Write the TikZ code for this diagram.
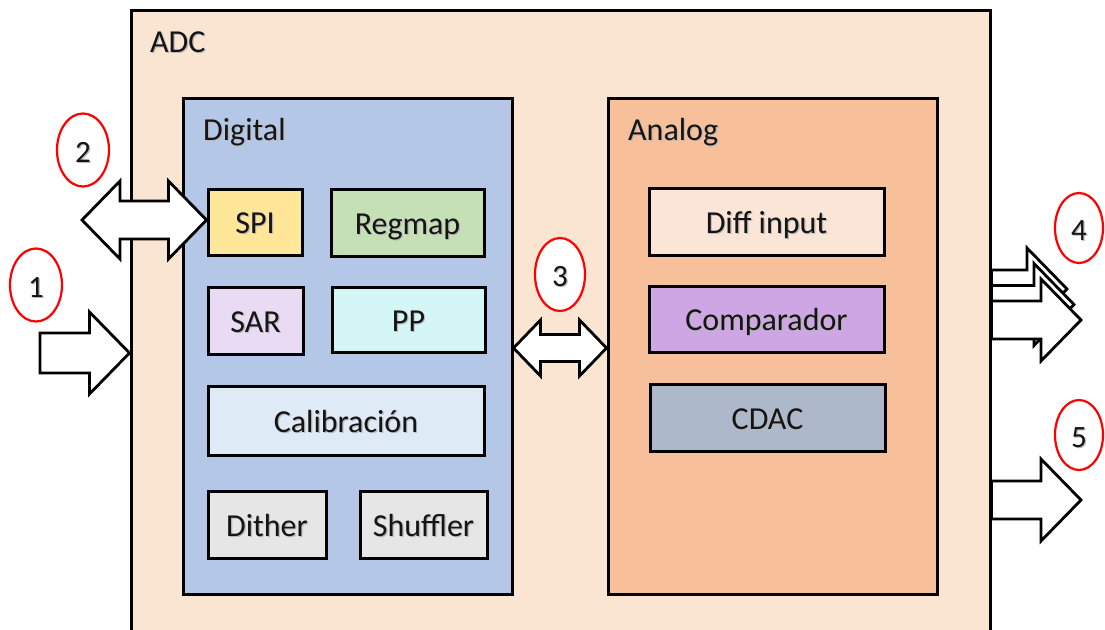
\documentclass[tikz,border=0pt]{standalone}
\usepackage{fontspec}
\setmainfont{Carlito}
\usetikzlibrary{calc,shapes.geometric}

\definecolor{adcfill}{HTML}{FAE5D2}
\definecolor{digfill}{HTML}{B4C7E7}
\definecolor{anafill}{HTML}{F8C09A}
\definecolor{spifill}{HTML}{FFE699}
\definecolor{regfill}{HTML}{C5E0B4}
\definecolor{sarfill}{HTML}{E8DBF3}
\definecolor{ppfill}{HTML}{D5F6F7}
\definecolor{calfill}{HTML}{DEEBF7}
\definecolor{grayfill}{HTML}{E7E6E6}
\definecolor{difffill}{HTML}{FBE5D6}
\definecolor{compfill}{HTML}{CDA6E3}
\definecolor{cdacfill}{HTML}{ADB9CA}
\definecolor{txt}{HTML}{151515}

% text with a soft drop shadow
\newcommand\shtext[1]{\leavevmode\rlap{\raisebox{-1.2pt}{\kern1.2pt\textcolor{black!28}{#1}}}#1}

% right-pointing block arrow: tail, tip, shaft half width, head half width, head length
\newcommand\blkarrowR[5]{%
  \draw[barrow] ($(#1)+(0,-#3)$) -- ($(#2)+(-#5,-#3)$) -- ($(#2)+(-#5,-#4)$) -- (#2)
    -- ($(#2)+(-#5,#4)$) -- ($(#2)+(-#5,#3)$) -- ($(#1)+(0,#3)$) -- cycle;}
% two-headed block arrow: left tip, right tip, shaft half width, head half width, head length
\newcommand\blkarrowLR[5]{%
  \draw[barrow] (#1) -- ($(#1)+(#5,-#4)$) -- ($(#1)+(#5,-#3)$) -- ($(#2)+(-#5,-#3)$)
    -- ($(#2)+(-#5,-#4)$) -- (#2) -- ($(#2)+(-#5,#4)$) -- ($(#2)+(-#5,#3)$)
    -- ($(#1)+(#5,#3)$) -- ($(#1)+(#5,#4)$) -- cycle;}

\tikzset{
  box/.style={draw=black, line width=3pt, inner sep=0pt, rectangle,
    font=\fontsize{32}{38}\selectfont, text=txt, text height=23pt, text depth=0pt},
  title/.style={anchor=base west, inner sep=0pt, font=\fontsize{32}{38}\selectfont, text=txt},
  barrow/.style={draw=black, fill=white, line width=2.8pt, line join=miter},
  tag/.style={ellipse, draw=red, line width=2.2pt, fill=white, inner sep=0pt,
    minimum width=52pt, minimum height=73pt, font=\fontsize{31}{38}\selectfont, text=txt,
    text height=24pt, text depth=0pt},
}

\begin{document}
\begin{tikzpicture}[x=1pt, y=-1pt]
\useasboundingbox (0,0) rectangle (1105,629);
\clip (0,0) rectangle (1105,629);
\fill[white] (0,0) rectangle (1105,629);

% outer ADC block
\node[box, fill=adcfill, minimum width=859pt, minimum height=640pt] (adc) at (560.5,330) {};
\node[title] (adclbl) at (150,52) {\shtext{ADC}};

% digital section
\node[box, fill=digfill, minimum width=329pt, minimum height=496pt] (dig) at (347.5,346) {};
\node[title] (diglbl) at (203,140) {\shtext{Digital}};
\node[box, fill=spifill, minimum width=94pt, minimum height=66pt] (spi) at (255,222) {\shtext{SPI}};
\node[box, fill=regfill, minimum width=153pt, minimum height=67pt] (reg) at (407.5,222.5) {\shtext{Regmap}};
\node[box, fill=sarfill, minimum width=95pt, minimum height=67pt] (sar) at (255.5,320.5) {\shtext{SAR}};
\node[box, fill=ppfill, minimum width=153pt, minimum height=65pt] (pp) at (408.5,319.5) {\shtext{PP}};
\node[box, fill=calfill, minimum width=276pt, minimum height=69pt] (cal) at (346,420.5) {\shtext{Calibración}};
\node[box, fill=grayfill, minimum width=118pt, minimum height=67pt] (dith) at (267,524.5) {\shtext{Dither}};
\node[box, fill=grayfill, minimum width=127pt, minimum height=67pt] (shuf) at (423.5,524.5) {\shtext{Shuffler}};

% analog section
\node[box, fill=anafill, minimum width=329pt, minimum height=496pt] (ana) at (772.5,346) {};
\node[title] (analbl) at (628,140) {\shtext{Analog}};
\node[box, fill=difffill, minimum width=235pt, minimum height=67pt] (diff) at (766.5,221.5) {\shtext{Diff input}};
\node[box, fill=compfill, minimum width=235pt, minimum height=66pt] (comp) at (766.5,319) {\shtext{Comparador}};
\node[box, fill=cdacfill, minimum width=235pt, minimum height=67pt] (cdac) at (767.5,417.5) {\shtext{CDAC}};

% end points of the interface arrows
\coordinate (in1) at (40,353);
\coordinate (in1tip) at (adc.west |- in1);
\coordinate (spiL) at (82,220);
\coordinate (spiR) at (spi.west |- spiL);
\coordinate (busL) at (dig.east |- 0,348);
\coordinate (busR) at (ana.west |- 0,348);
\coordinate (o4c) at (adc.east |- 0,289);
\coordinate (o4ct) at (1067,289);
\coordinate (o4b) at (adc.east |- 0,304.5);
\coordinate (o4bt) at (1074,304.5);
\coordinate (o4a) at (adc.east |- 0,320);
\coordinate (o4at) at (1081,320);
\coordinate (o5) at (adc.east |- 0,500);
\coordinate (o5t) at (1081,500);

% interface arrows
\blkarrowR{in1}{in1tip}{20}{41}{40}
\blkarrowLR{spiL}{spiR}{19}{39}{38}
\blkarrowLR{busL}{busR}{13.5}{28}{27}
\blkarrowR{o4c}{o4ct}{19}{41}{40}
\blkarrowR{o4b}{o4bt}{19}{41}{40}
\blkarrowR{o4a}{o4at}{19}{41}{40}
\blkarrowR{o5}{o5t}{19}{41}{40}

% numbered tags
\node[tag] (t1) at (36,285) {\shtext{1}};
\node[tag] (t2) at (83,150) {\shtext{2}};
\node[tag, minimum width=50pt] (t3) at (560,274.5) {\shtext{3}};
\node[tag, minimum width=48pt, minimum height=70pt] (t4) at (1079,228) {\shtext{4}};
\node[tag, minimum width=48pt, minimum height=70pt] (t5) at (1079,435) {\shtext{5}};
\end{tikzpicture}
\end{document}
